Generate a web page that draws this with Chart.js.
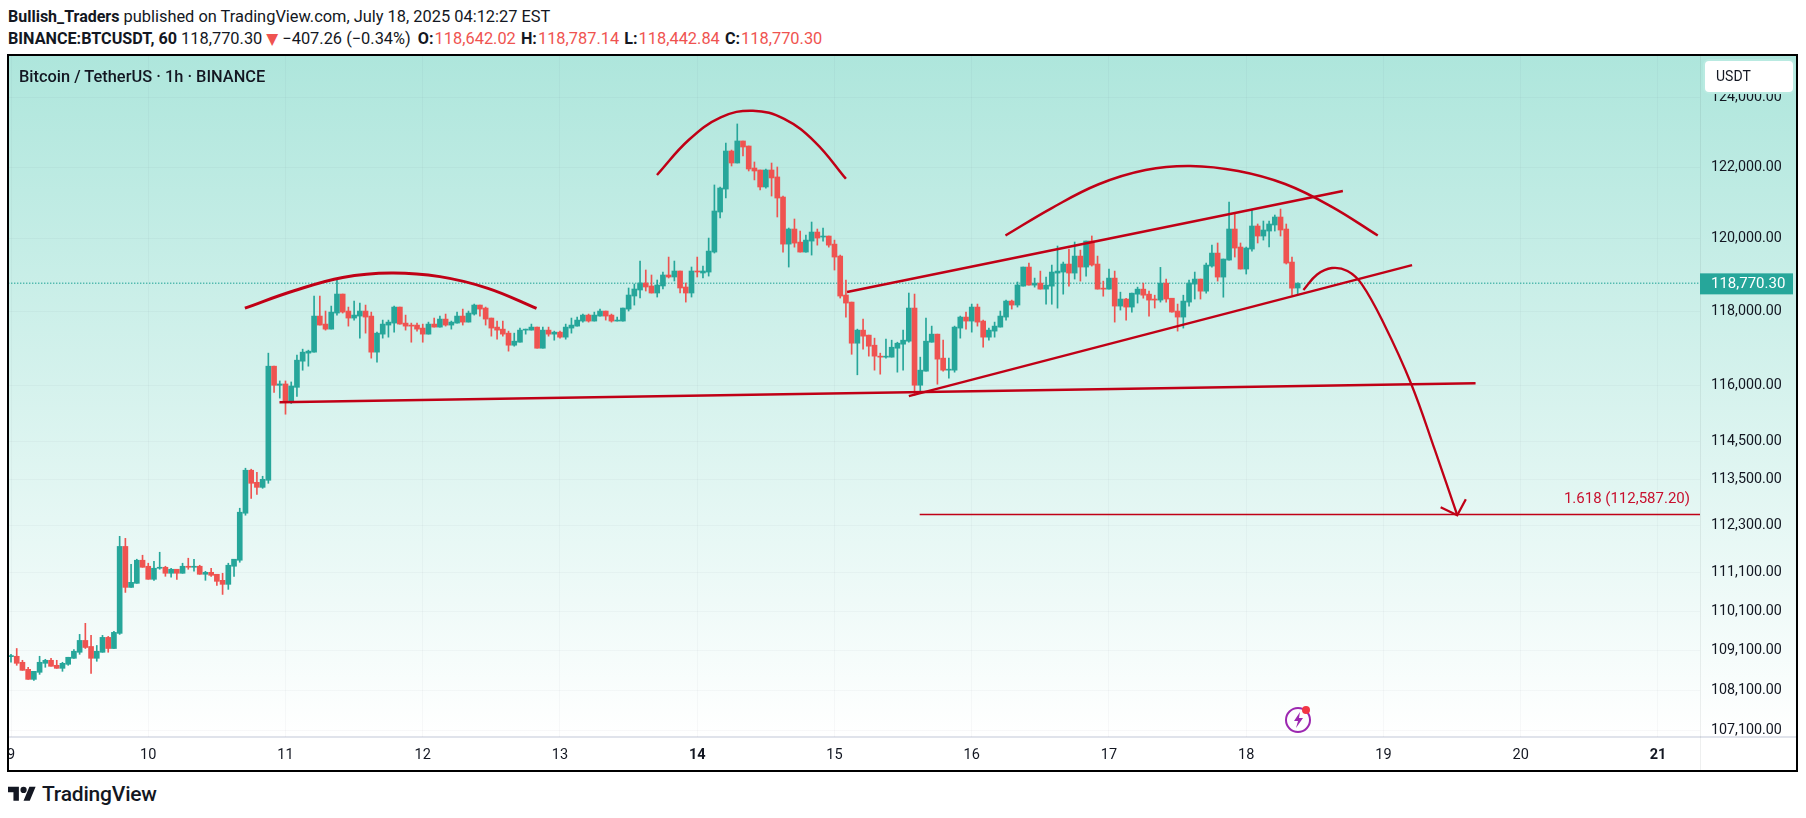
<!DOCTYPE html>
<html>
<head>
<meta charset="utf-8">
<title>BTCUSDT</title>
<script src="https://cdn.jsdelivr.net/npm/chart.js@4"></script>
<style>
html, body { margin: 0; padding: 0; background: #fff; }
body { width: 1806px; height: 818px; position: relative; overflow: hidden; font-family: Roboto, sans-serif; color: #131722; }
.abs { position: absolute; white-space: nowrap; }
.fila { left: 8px; font-size: 16.4px; line-height: 20px; }
.fila b { font-weight: 700; font-size: 16.2px; }
.fila b.et { margin: 0 1px; }
.rojo { color: #ef5350; }
.tri { font-family: "DejaVu Sans"; font-size: 15.5px; margin-left: 4px; }
#pane { left: 7px; top: 54px; width: 1787px; height: 714px; border: 2px solid #000; background: #fff; overflow: hidden; }
#fondo { position: absolute; left: 0; top: 0; right: 0; height: 680px; background: linear-gradient(#aee6dc, #ffffff); border-bottom: 2px solid #e0e3eb; }
#ejeLinea { position: absolute; left: 1691px; top: 0; bottom: 0; width: 1px; background: rgba(42,46,57,0.08); }
canvas { position: absolute; left: 0; top: 0; }
#titulo { left: 10px; top: 11px; font-size: 16.4px; line-height: 20px; font-weight: 500; }
#usdt { left: 1696px; top: 5px; width: 88px; height: 31px; background: #fff; border-radius: 4px; font-size: 14px; line-height: 31px; text-indent: 11px; box-shadow: 0 0 0 2px #b9eae1; }
#rayo { left: 1274px; top: 647px; }
#logo { left: 8px; top: 785px; }
#logoTexto { left: 42px; top: 782px; font-size: 21px; line-height: 24px; font-weight: 500; letter-spacing: -0.2px; color: #131722; }
</style>
</head>
<body>
<div class="abs fila" style="top:7px"><b style="font-size:16px">Bullish_Traders</b> published on TradingView.com, July 18, 2025 04:12:27 EST</div>
<div class="abs fila" style="top:29px"><b>BINANCE:BTCUSDT, 60</b> 118,770.30<span class="rojo tri">▼</span> −407.26 (−0.34%) <b class="et" style="margin-left:3px">O:</b><span class="rojo">118,642.02</span> <b class="et">H:</b><span class="rojo">118,787.14</span> <b class="et">L:</b><span class="rojo">118,442.84</span> <b class="et">C:</b><span class="rojo">118,770.30</span></div>
<div id="pane" class="abs">
  <div id="fondo"></div>
  <div id="ejeLinea"></div>
  <canvas id="grafica" width="1787" height="714"></canvas>
  <div id="titulo" class="abs">Bitcoin / TetherUS · 1h · BINANCE</div>
  <div id="usdt" class="abs">USDT</div>
  <svg id="rayo" class="abs" width="32" height="32" viewBox="0 0 32 32">
    <circle cx="15" cy="17" r="12" fill="none" stroke="#9c27b0" stroke-width="2"/>
    <path d="M17 9 L11 18 H15 L13 25 L20 15 H16 Z" fill="#9c27b0"/>
    <circle cx="23" cy="7" r="4" fill="#f23645"/>
  </svg>
</div>
<svg id="logo" class="abs" width="28" height="16" viewBox="0 2 36 20"><path fill="#131722" d="M14 22H7V11H0V4h14v18zM28 22h-8l7.5-18h8L28 22z"/><circle fill="#131722" cx="20" cy="8" r="4"/></svg>
<div id="logoTexto" class="abs">TradingView</div>

<script>
// velas de 1 hora, la 0 es el 9 de julio a las 00:00
const highs = [
  109007,109153,108856,108680,108579,108957,108881,108906,108856,108806,
  108932,109127,109510,109790,109485,109230,109485,109459,109587,112021,
  111969,111301,111430,111533,111327,111378,111610,111249,111198,111172,
  111327,111456,111430,111275,111120,111198,111043,111069,111327,111430,
  112752,113800,113774,113694,113589,116869,116517,116120,116120,116093,
  116815,116977,116950,118422,118422,118012,118148,118890,118477,118121,
  118285,118230,118176,117984,117438,117766,117766,118148,118121,117902,
  117684,117684,117657,117711,117821,117875,117930,117739,117984,118066,
  118012,118203,118176,118121,117821,117739,117739,117466,117411,117548,
  117520,117657,117575,117575,117575,117466,117466,117657,117821,117848,
  117930,117930,117984,118066,118012,117930,117848,118094,118643,118753,
  119385,119138,119000,118863,119083,119495,119385,119110,118780,119220,
  119495,119248,120021,121504,121447,122688,122489,123230,122746,122603,
  122151,121925,121953,122122,122010,121193,120300,120551,120216,120105,
  120467,120272,120300,120077,119965,119550,118862,118257,117520,117793,
  117357,117275,116869,117247,117220,117165,117493,118505,118477,116761,
  117821,117602,117384,117220,116734,117602,117875,117984,118203,118203,
  117766,117548,117711,118012,118312,118312,118807,119219,119329,118915,
  119108,118943,119274,119800,119357,119716,119911,119688,119939,120079,
  119522,118832,119164,119108,118529,118363,118501,118667,118777,118556,
  118446,119210,118888,118363,118203,118446,118860,119081,118888,119329,
  119828,119884,119440,121025,120718,119884,119772,120802,120412,120495,
  120495,120662,120830,120412,119495,118787.14
]
const lows = [
  108806,108730,108604,108377,108352,108503,108680,108705,108654,108579,
  108730,108906,109007,109153,108528,108831,109058,109058,109153,109510,
  110578,110707,110811,111223,110914,110888,111172,110991,110966,110914,
  111069,111172,111120,111043,110888,110991,110759,110527,110656,110991,
  111352,112570,113008,113113,113272,113404,115815,115660,115230,115516,
  115705,116408,116517,116896,117630,117493,117520,117902,117957,117602,
  117766,117275,117411,116734,116626,117275,117302,117438,117657,117493,
  117165,117466,117165,117384,117575,117575,117602,117520,117684,117630,
  117711,117902,117875,117630,117329,117247,117329,116923,117057,117165,
  117384,117493,117002,117002,117329,117220,117275,117247,117411,117602,
  117711,117711,117739,117875,117766,117711,117739,117739,118012,118175,
  118368,118560,118505,118395,118615,118918,118835,118505,118257,118395,
  118945,118918,118970,119606,120579,121137,122038,122122,122320,121897,
  121645,121363,121417,121193,120607,119633,119219,119769,119633,119633,
  119550,119825,119937,119769,119136,118367,117848,116838,116285,116974,
  116788,116410,116302,116734,116761,116356,116410,117165,115735,115816,
  116383,117165,116032,116383,116194,116356,117275,117520,117438,117602,
  117029,117220,117302,117575,117766,118066,118121,118694,118722,118667,
  118612,118198,118198,118093,118474,118694,118888,118832,118970,119246,
  118612,118418,118612,117711,118039,117766,117985,118230,118363,117875,
  118094,118257,118257,117985,117466,117548,118148,118340,118340,118501,
  119219,118832,118391,119412,119495,119164,119026,119660,119884,119965,
  119772,120216,120077,119302,118446,118442.84
]
const opens = [
  108948,108957,108806,108629,108377,108554,108780,108856,108730,108654,
  108755,108906,109058,109357,109204,108906,109058,109434,109153,109536,
  111760,110707,110811,111404,111249,110914,111198,111223,111069,111172,
  111069,111249,111223,111249,111043,111094,111043,110888,110785,111249,
  111404,112622,113747,113430,113298,113483,116517,116003,116039,115551,
  115949,116652,116869,116896,117875,117657,117520,117957,118477,118012,
  117821,117875,118012,117875,116896,117384,117630,117684,118121,117684,
  117630,117630,117548,117384,117657,117575,117793,117630,117684,117875,
  117711,117930,118176,118094,117821,117575,117520,117411,117084,117165,
  117493,117493,117575,117002,117493,117384,117438,117302,117548,117602,
  117739,117902,117739,117875,118012,117902,117739,117739,118066,118423,
  118588,118780,118698,118505,118698,119000,118945,119110,118670,118505,
  119110,119055,119081,119633,120746,121389,122461,122122,122746,122603,
  121981,121925,121447,121925,121729,121165,119853,120272,119909,119633,
  119937,120188,120049,120077,119853,119522,118450,118257,117138,117493,
  117357,117084,116788,116761,116761,117002,117111,117193,118094,116005,
  116383,117165,117384,116734,116410,116410,117548,117848,117739,118121,
  117739,117302,117466,117575,117848,118285,118176,118694,119219,118722,
  118777,118612,118694,119053,119081,119302,119053,119522,119219,119939,
  119302,118639,118612,118915,118148,118340,118121,118474,118612,118474,
  118340,118312,118777,118363,118012,117848,118257,118750,118888,118556,
  119246,119605,118943,119412,120272,119772,119164,119716,120356,120077,
  120216,120384,120606,120272,119357,118642.02
]
const closes = [
  108974,108780,108604,108377,108579,108806,108856,108705,108654,108780,
  108932,109083,109357,109179,108906,109083,109434,109153,109561,111760,
  110707,110836,111404,111223,110914,111198,111223,111069,111172,111069,
  111249,111223,111249,111043,111094,111017,110862,110785,111275,111430,
  112648,113747,113404,113298,113509,116517,116003,116039,115551,115985,
  116679,116896,116923,117875,117630,117520,117984,118477,117984,117821,
  117902,118012,117848,116896,117411,117657,117711,118121,117657,117602,
  117602,117520,117384,117657,117575,117793,117630,117711,117875,117711,
  117957,118176,118066,117793,117548,117493,117384,117084,117193,117493,
  117520,117575,117002,117493,117384,117438,117302,117575,117630,117766,
  117902,117739,117902,118012,117875,117739,117766,118094,118450,118615,
  118780,118670,118505,118725,119000,118945,119110,118643,118505,119110,
  119083,119110,119660,120774,121417,122461,122122,122746,122575,121953,
  121897,121447,121925,121701,121137,119853,120272,119881,119633,119965,
  120188,120021,120077,119825,119495,118422,118230,117138,117493,117329,
  117057,116788,116761,116788,117029,117138,117220,118094,116005,116410,
  117193,117384,116707,116410,116437,117575,117848,117739,118121,117711,
  117302,117493,117602,117875,118285,118176,118725,119219,118722,118777,
  118612,118722,119081,119108,119302,119053,119522,119219,119939,119274,
  118612,118612,118915,118148,118340,118121,118501,118612,118446,118312,
  118312,118777,118340,117985,117848,118285,118777,118888,118556,119274,
  119605,118943,119440,120272,119744,119164,119744,120356,120077,120244,
  120412,120606,120244,119329,118639,118770.30
]

const precioActual = 118770.30
const precioFibo = 112587.20
const textoFibo = "1.618 (112,587.20)"

// ejes
const horasDias = [0,24,48,72,96,120,144,168,192,216,240,264,288]
const etiquetasDias = ["9","10","11","12","13","14","15","16","17","18","19","20","21"]
const diasNegrita = ["14","21"]
const ticksPrecio = [124000,122000,120000,118000,116000,114500,113500,112300,111100,110100,109100,108100,107100]

// dibujos a mano del autor: hora, precio
const arcoIzqX = [40.9,49.5,58,66.5,75,83.4,91.9]
const arcoIzqY = [118093,118568,118934,119057,118955,118634,118085]
const arcoMedioX = [112.96,118.5,124.1,129.74,135.2,140.6,146]
const arcoMedioY = [121785,122773,123418,123609,123373,122716,121677]
const arcoDerX = [173.9,182,190.2,198.4,206.2,214.6,222.8,230.9,239]
const arcoDerY = [120093,120857,121524,121925,122038,121897,121531,120899,120093]
const canalAltoX = [146.2,232.9]
const canalAltoY = [118532,121335]
const canalBajoX = [157,245]
const canalBajoY = [115713,119272]
const cuelloX = [46.95,256.1]
const cuelloY = [115551,116059]
const caidaX = [226,228.4,231,233.7,236.2,240.2,244.8,249,252.9]
const caidaY = [118587,119013,119193,119110,118752,117627,116058,114275,112570]
const flechaX = [250,252.9,254.4]
const flechaY = [112778,112571,112987]
const fiboX = [158.9,296]

const verde = "#26a69a"
const rojo = "#ef5350"
const rojoDibujo = "#c00016"

const indices = opens.map((v, i) => i)
const colores = indices.map((i) => closes[i] >= opens[i] ? verde : rojo)

function linea(xs, ys, ancho, curva) {
  return {
    type: "line",
    data: xs.map((x, i) => ({ x: x, y: ys[i] })),
    borderColor: rojoDibujo,
    borderWidth: ancho,
    pointRadius: 0,
    tension: curva ? 0.4 : 0,
    order: 1
  }
}

const etiquetasPlugin = {
  id: "etiquetas",
  afterDraw(chart) {
    const ctx = chart.ctx
    const y = chart.scales.y
    const area = chart.chartArea
    const py = y.getPixelForValue(precioActual)
    ctx.save()
    ctx.fillStyle = verde
    ctx.fillRect(area.right, py - 10, 93, 21)
    ctx.fillStyle = "#ffffff"
    ctx.font = "15px Roboto"
    ctx.textBaseline = "middle"
    ctx.textAlign = "left"
    ctx.fillText(precioActual.toLocaleString("en-US", { minimumFractionDigits: 2 }), area.right + 11, py + 0.5)
    ctx.fillStyle = "#c8102e"
    ctx.font = "15px Roboto"
    ctx.textAlign = "right"
    ctx.fillText(textoFibo, area.right - 10, y.getPixelForValue(precioFibo) - 15)
    ctx.restore()
  }
}

const config = {
  type: "bar",
  data: {
    datasets: [
      {
        data: indices.map((i) => ({ x: i, y: [opens[i], closes[i]] })),
        backgroundColor: colores,
        barThickness: 5,
        minBarLength: 1,
        grouped: false,
        order: 2
      },
      {
        data: indices.map((i) => ({ x: i, y: [lows[i], highs[i]] })),
        backgroundColor: colores,
        barThickness: 1,
        grouped: false,
        order: 3
      },
      {
        type: "line",
        data: [{ x: -1, y: precioActual }, { x: 296, y: precioActual }],
        borderColor: verde,
        borderWidth: 1.5,
        borderDash: [1, 2],
        pointRadius: 0,
        order: 4
      },
      linea(arcoIzqX, arcoIzqY, 3, true),
      linea(arcoMedioX, arcoMedioY, 2.5, true),
      linea(arcoDerX, arcoDerY, 2.5, true),
      linea(canalAltoX, canalAltoY, 2.5, false),
      linea(canalBajoX, canalBajoY, 2.5, false),
      linea(cuelloX, cuelloY, 2.5, false),
      linea(caidaX, caidaY, 2.3, true),
      linea(flechaX, flechaY, 2.3, false),
      linea(fiboX, [precioFibo, precioFibo], 1.5, false)
    ]
  },
  options: {
    responsive: false,
    animation: false,
    layout: { padding: 0 },
    plugins: { legend: { display: false }, tooltip: { enabled: false } },
    scales: {
      x: {
        type: "linear",
        offset: false,
        min: -0.35,
        max: 295.35,
        border: { display: false },
        grid: { offset: false, color: "rgba(42,46,57,0.03)", drawTicks: false },
        afterBuildTicks(scale) {
          scale.ticks = horasDias.map((h) => ({ value: h }))
        },
        afterFit(scale) {
          scale.height = 33
          scale.paddingLeft = 0
          scale.paddingRight = 0
        },
        ticks: {
          autoSkip: false,
          maxRotation: 0,
          padding: 10,
          color: "#131722",
          font: (c) => ({ family: "Roboto", size: 14.5, weight: diasNegrita.includes(etiquetasDias[c.index]) ? "700" : "400" }),
          callback: (valor, i) => etiquetasDias[i]
        }
      },
      y: {
        type: "logarithmic",
        position: "right",
        min: 106942,
        max: 125182,
        border: { display: false },
        grid: { color: "rgba(42,46,57,0.03)", drawTicks: false },
        afterBuildTicks(scale) {
          scale.ticks = ticksPrecio.map((p) => ({ value: p }))
        },
        afterFit(scale) {
          scale.width = 96
          scale.paddingTop = 0
          scale.paddingBottom = 0
        },
        ticks: {
          autoSkip: false,
          padding: 11,
          color: "#131722",
          font: { family: "Roboto", size: 14.3 },
          callback: (valor) => valor.toLocaleString("en-US", { minimumFractionDigits: 2 })
        }
      }
    }
  },
  plugins: [etiquetasPlugin]
}

new Chart(document.getElementById("grafica"), config)
</script>
</body>
</html>
